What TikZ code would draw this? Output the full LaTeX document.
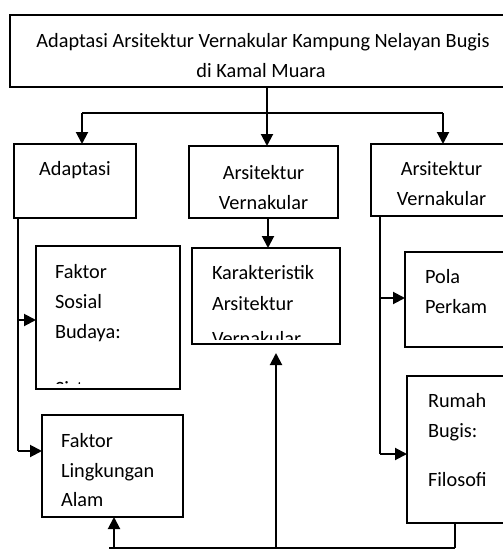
\documentclass[tikz,border=0pt]{standalone}
\usepackage{fontspec}
\setmainfont{Carlito}
\usetikzlibrary{arrows.meta}
\begin{document}
\begin{tikzpicture}[x=1pt,y=-1pt,
  box/.style={draw,line width=1.8pt,inner sep=0pt,outer sep=0pt},
  topbox/.style={draw,line width=2.2pt,inner sep=0pt,outer sep=0pt},
  conn/.style={line width=2pt},
  arr/.style={line width=2pt,-{Triangle[length=12pt,width=12pt]}},
  txt/.style={inner sep=0pt,outer sep=0pt,anchor=base west,font=\fontsize{20.3}{24}\selectfont},
  ctxt/.style={inner sep=0pt,outer sep=0pt,anchor=base,font=\fontsize{20.3}{24}\selectfont}]
\useasboundingbox (0,0) rectangle (503,549);
\clip (0,0) rectangle (503,549);
% boxes
\node[topbox,minimum width=504pt,minimum height=72pt] (top) at (262,51) {};
\node[box,minimum width=122pt,minimum height=74pt] (adapt) at (75,181) {};
\node[box,minimum width=149pt,minimum height=72pt] (arsM) at (263.5,182) {};
\node[box,minimum width=141pt,minimum height=72pt] (arsR) at (441.5,180) {};
\node[box,minimum width=144pt,minimum height=143pt] (sosial) at (108,317.5) {};
\node[box,minimum width=148pt,minimum height=96pt] (karak) at (266,296) {};
\node[box,minimum width=141pt,minimum height=102pt] (lingk) at (112.5,466) {};
\node[box,minimum width=115pt,minimum height=95pt] (pola) at (462.5,299.5) {};
\node[box,minimum width=113pt,minimum height=147pt] (rumah) at (463.5,449.5) {};
% texts
\node[ctxt] (t1) at (263,47) {Adaptasi Arsitektur Vernakular Kampung Nelayan Bugis};
\node[ctxt] (t2) at (261,77) {di Kamal Muara};
\node[ctxt] (ta) at (75,175) {Adaptasi};
\node[ctxt] (tm1) at (263.5,179) {Arsitektur};
\node[ctxt] (tm2) at (263.5,209) {Vernakular};
\node[ctxt] (tr1) at (441.5,175) {Arsitektur};
\node[ctxt] (tr2) at (441.5,205) {Vernakular};
\node[txt] (ts1) at (55,278) {Faktor};
\node[txt] (ts2) at (55,308) {Sosial};
\node[txt] (ts3) at (55,338) {Budaya:};
\begin{scope}
\clip (40,250) rectangle (176,383.5);
\node[txt] (ts4) at (55,395) {Sistem};
\end{scope}
\node[txt] (tk1) at (212,279) {Karakteristik};
\node[txt] (tk2) at (212,310) {Arsitektur};
\begin{scope}
\clip (195,250) rectangle (337,339);
\node[txt] (tk3) at (212,345) {Vernakular};
\end{scope}
\node[txt] (tl1) at (61,447) {Faktor};
\node[txt] (tl2) at (61,477) {Lingkungan};
\node[txt] (tl3) at (61,506) {Alam};
\node[txt] (tp1) at (425,283) {Pola};
\node[txt] (tp2) at (425,313) {Perkam};
\node[txt] (tu1) at (428,407) {Rumah};
\node[txt] (tu2) at (428,437) {Bugis:};
\node[txt] (tu3) at (428,486) {Filosofi};
% junction coordinates
\coordinate (jC) at (267,113);
\coordinate (jL) at (82,113);
\coordinate (jR) at (443,113);
\coordinate (xM) at (268,230);
\coordinate (lMid) at (18,320);
\coordinate (lBot) at (18,451);
\coordinate (rMid) at (380,298);
\coordinate (rBot) at (380,454);
\coordinate (bL) at (109,548);
\coordinate (bA) at (114,548);
\coordinate (bK) at (276,548);
\coordinate (kTip) at (276,353);
\coordinate (bR) at (455,548);
% connectors
\draw[arr] (top.south -| jC) -- (arsM.north -| jC);
\draw[conn] (jL) -- (jR);
\draw[arr] (jL) -- (adapt.north -| jL);
\draw[arr] (jR) -- (arsR.north -| jR);
\draw[arr] (arsM.south -| xM) -- (karak.north -| xM);
\draw[conn] (adapt.south -| lBot) -- (lBot);
\draw[arr] (lMid) -- (sosial.west |- lMid);
\draw[arr] (lBot) -- (lingk.west |- lBot);
\draw[conn] (arsR.south -| rBot) -- (rBot);
\draw[arr] (rMid) -- (pola.west |- rMid);
\draw[arr] (rBot) -- (rumah.west |- rBot);
\draw[conn] (bL) -- (bR);
\draw[arr] (bA) -- (lingk.south -| bA);
\draw[arr] (bK) -- (kTip);
\draw[conn] (rumah.south -| bR) -- (bR);
\end{tikzpicture}
\end{document}
